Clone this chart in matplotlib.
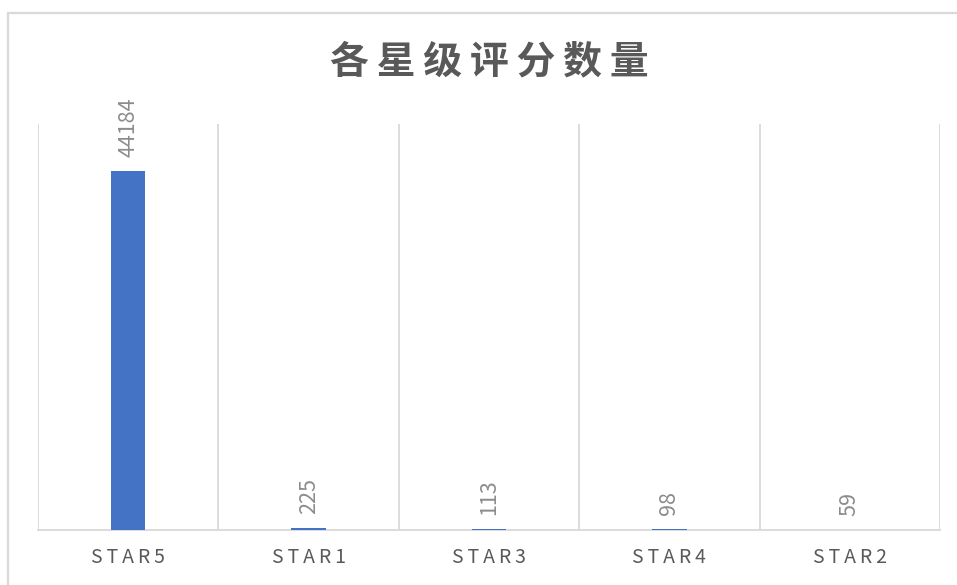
import matplotlib
matplotlib.use("Agg")
import matplotlib.pyplot as plt
from matplotlib.patches import Rectangle

plt.rcParams['font.family'] = ['Noto Sans CJK SC', 'DejaVu Sans']

# star levels and the number of reviews for each
categories = ['STAR5', 'STAR1', 'STAR3', 'STAR4', 'STAR2']
counts = [44184, 225, 113, 98, 59]
title = '各星级评分数量'

W, H = 957, 585
fig = plt.figure(figsize=(W / 100, H / 100), dpi=100)

# chart frame (runs off the right and bottom edges)
fig.patches.append(Rectangle((8 / W, -0.1), 1.2, 1 - 13 / H + 0.1,
                             transform=fig.transFigure, fill=False,
                             edgecolor='#D9D9D9', lw=1.6))

ax = fig.add_axes([38 / W, 55 / H, (940 - 38) / W, (530 - 124) / H])

x = range(len(categories))
bars = ax.bar(x, counts, width=0.19, color='#4472C4', zorder=3)

ax.set_xlim(-0.5, len(categories) - 0.5)
ax.set_ylim(0, 50000)

# category separators
for b in [i - 0.5 for i in range(len(categories) + 1)]:
    ax.axvline(b, color='#D9D9D9', lw=1.3, zorder=1)

for side in ['top', 'left', 'right']:
    ax.spines[side].set_visible(False)
ax.spines['bottom'].set_color('#D9D9D9')
ax.spines['bottom'].set_linewidth(1.3)

ax.set_yticks([])
ax.set_xticks(list(x))
ax.set_xticklabels(['\u2009'.join(c) for c in categories])
ax.tick_params(axis='x', length=0, pad=12, labelsize=14, labelcolor='#595959')

for rect, v in zip(bars, counts):
    ax.annotate(str(v), (rect.get_x() + rect.get_width() / 2, v),
                xytext=(0, 10), textcoords='offset points',
                rotation=90, ha='center', va='bottom',
                fontsize=15.5, color='#8C8C8C')

fig.text((38 + 940) / 2 / W, 1 - 62 / H, '\u2009'.join(title),
         ha='center', va='center', fontsize=28, fontweight='bold',
         color='#595959')

fig.savefig('out.png', dpi=100, facecolor='white')
